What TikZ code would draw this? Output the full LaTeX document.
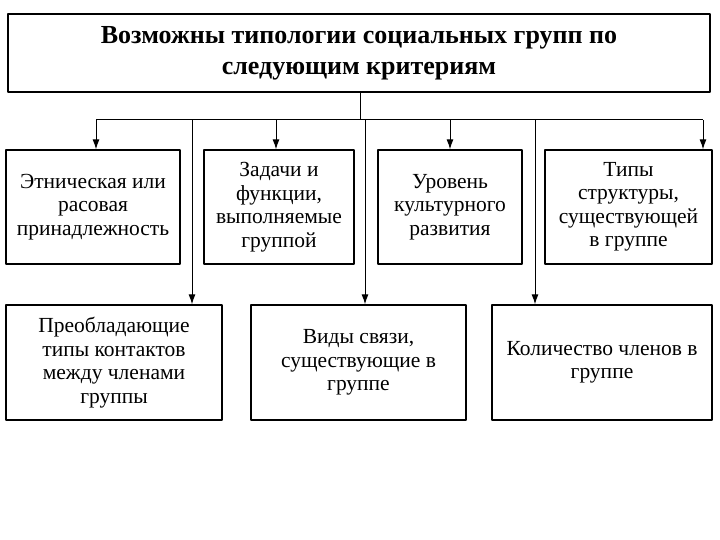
\documentclass[tikz,border=0pt]{standalone}
\usepackage{fontspec}
\setmainfont{Liberation Serif}
\usetikzlibrary{arrows.meta}
\begin{document}
\begin{tikzpicture}[x=1pt,y=-1pt,line join=round,>={Latex[length=10pt,width=7pt]},
  box/.style={draw,line width=1.3pt,inner sep=1pt,align=center,
    font=\fontsize{21.5}{23.5}\selectfont},
  link/.style={line width=1pt}]
\useasboundingbox (0,0) rectangle (720,540);
\node[box,font=\bfseries\fontsize{26}{31}\selectfont,minimum width=702pt,minimum height=78pt]
  (T) at (359,53) {Возможны типологии социальных групп по\\следующим критериям};
\node[box,minimum width=174pt,minimum height=114pt] (b1) at (93,207) {Этническая или\\расовая\\принадлежность};
\node[box,minimum width=150pt,minimum height=114pt] (b2) at (279,207) {Задачи и\\функции,\\выполняемые\\группой};
\node[box,minimum width=144pt,minimum height=114pt] (b3) at (450,207) {Уровень\\культурного\\развития};
\node[box,minimum width=167pt,minimum height=114pt] (b4) at (628.5,207) {Типы\\структуры,\\существующей\\в группе};
\node[box,minimum width=216pt,minimum height=115pt] (b5) at (114,362.5) {Преобладающие\\типы контактов\\между членами\\группы};
\node[box,minimum width=215pt,minimum height=115pt] (b6) at (358.5,362.5) {Виды связи,\\существующие в\\группе};
\node[box,minimum width=220pt,minimum height=115pt] (b7) at (602,362.5) {Количество членов в\\группе};
\coordinate (hub) at (360,120);
\draw[link] (T.south -| hub) -- (hub);
\draw[link] (96,120) -- (703,120);
\draw[link,->] (96,120) -- (b1.north -| 96,0);
\draw[link,->] (276,120) -- (b2.north -| 276,0);
\draw[link,->] (450,120) -- (b3.north);
\draw[link,->] (703,120) -- (b4.north -| 703,0);
\draw[link,->] (192,120) -- (b5.north -| 192,0);
\draw[link,->] (365,120) -- (b6.north -| 365,0);
\draw[link,->] (535,120) -- (b7.north -| 535,0);
\end{tikzpicture}
\end{document}
